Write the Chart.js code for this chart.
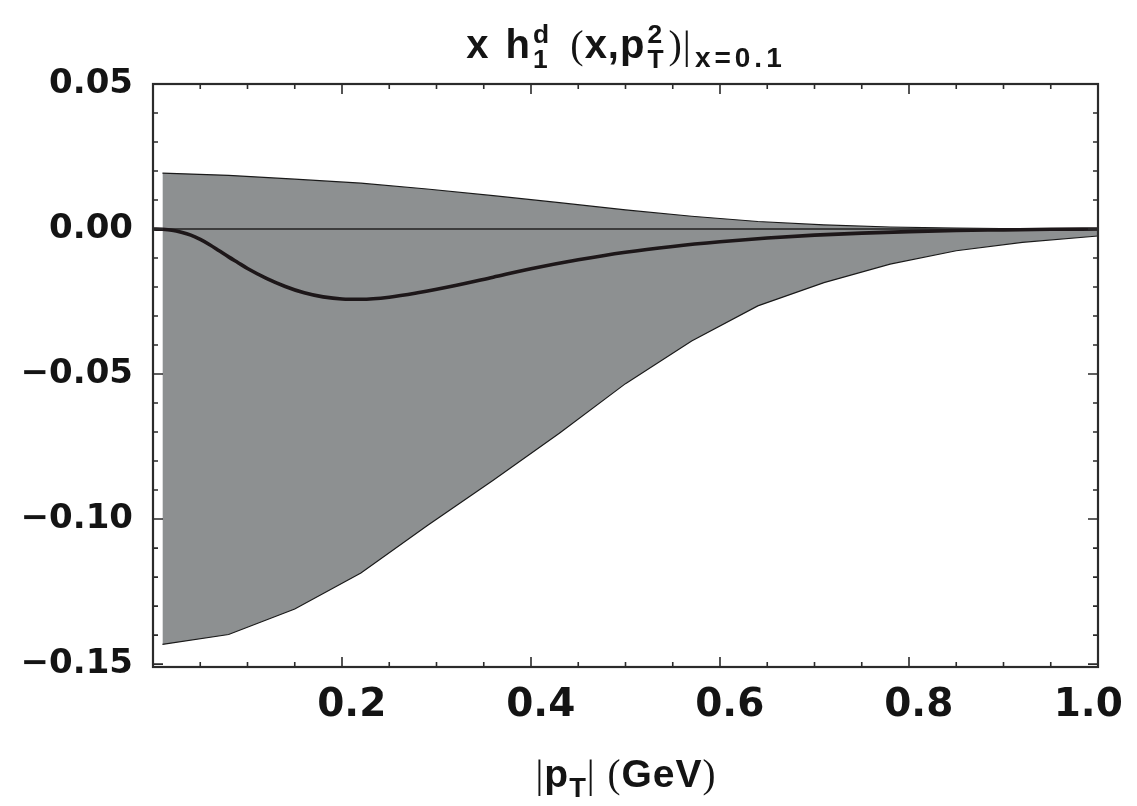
<!doctype html>
<html><head><meta charset="utf-8">
<script src="https://cdn.jsdelivr.net/npm/chart.js@4.4.1/dist/chart.umd.min.js"></script>
<style>
  body{margin:0;background:#fff;width:1137px;height:806px;position:relative;overflow:hidden}
  canvas{position:absolute;left:0;top:0}
  .lbl{position:absolute;white-space:nowrap;color:#141414;font-family:"Liberation Sans",Arial,sans-serif;font-weight:bold;line-height:1}
  #title{left:0;width:1252px;top:22px;text-align:center;font-size:40px;letter-spacing:1px;word-spacing:4px}
  #xlabel{left:0;width:1252px;top:754px;text-align:center;font-size:39px;letter-spacing:1px}
  .ss{display:inline-block;vertical-align:middle;font-size:0.66em;line-height:0.95;text-align:left;margin-left:2px;margin-right:4px}
  .ss span{display:block}
  .sr{font-family:"Liberation Serif","Times New Roman",serif;font-weight:normal}
  .sb{font-size:0.7em;vertical-align:-0.35em}
  #title .sb{letter-spacing:4px;margin-left:3px}
</style></head>
<body>
<canvas id="c" width="1137" height="806"></canvas>
<div id="title" class="lbl">x h<span class="ss"><span>d</span><span>1</span></span> <span class="sr">(</span>x,p<span class="ss"><span>2</span><span>T</span></span><span class="sr">)|</span><span class="sb">x=0.1</span></div>
<div id="xlabel" class="lbl"><span class="sr">|</span>p<span class="sb">T</span><span class="sr">|</span> <span class="sr">(</span>GeV<span class="sr">)</span></div>
<script>
// band (upper / lower bound), sampled every 0.07 like the original plot
const bandX = [0.01, 0.08, 0.15, 0.22, 0.29, 0.36, 0.43, 0.50, 0.57, 0.64, 0.71, 0.78, 0.85, 0.92, 1.0];
const bandUpper = [0.0193, 0.0185, 0.0172, 0.0158, 0.0138, 0.0115, 0.0091, 0.0066, 0.0044, 0.0026, 0.0014, 0.0007, 0.0003, 0.0001, 0.0000];
const bandLower = [-0.1432, -0.1398, -0.1310, -0.1186, -0.1023, -0.0866, -0.0704, -0.0533, -0.0386, -0.0265, -0.0185, -0.0121, -0.0075, -0.0046, -0.0024];

// central curve
const curveX = [0, 0.01, 0.02, 0.03, 0.04, 0.05, 0.06, 0.07, 0.08, 0.09, 0.10, 0.12, 0.14, 0.16, 0.18, 0.20, 0.22, 0.25, 0.28, 0.32, 0.36, 0.40, 0.45, 0.50, 0.55, 0.60, 0.65, 0.70, 0.75, 0.80, 0.85, 0.90, 0.95, 1.0];
const curveY = [0, -0.0001, -0.0004, -0.0011, -0.0021, -0.0036, -0.0054, -0.0075, -0.0096, -0.0116, -0.0136, -0.0170, -0.0198, -0.0220, -0.0234, -0.0241, -0.0242, -0.0235, -0.0220, -0.0195, -0.0166, -0.0137, -0.0106, -0.0080, -0.0060, -0.0044, -0.0031, -0.0021, -0.0014, -0.0009, -0.0005, -0.0003, -0.0001, 0];

// horizontal axis line at y = 0
const zeroX = [0, 1];
const zeroY = [0, 0];

const xTickValues = [0.2, 0.4, 0.6, 0.8, 1.0];
const xTickLabels = ["0.2", "0.4", "0.6", "0.8", "1.0"];
const xMinorTicks = [0.05, 0.1, 0.15, 0.25, 0.3, 0.35, 0.45, 0.5, 0.55, 0.65, 0.7, 0.75, 0.85, 0.9, 0.95];
const yTickValues = [0.05, 0, -0.05, -0.1, -0.15];
const yTickLabels = ["0.05", "0.00", "\u22120.05", "\u22120.10", "\u22120.15"];
const yMinorTicks = [0.04, 0.03, 0.02, 0.01, -0.01, -0.02, -0.03, -0.04, -0.06, -0.07, -0.08, -0.09, -0.11, -0.12, -0.13, -0.14];

const pts = (xs, ys) => xs.map((x, i) => ({ x, y: ys[i] }));

// Mathematica-style frame with inward ticks on all four sides
const frameTicks = {
  id: "frameTicks",
  afterDatasetsDraw(chart) {
    const { ctx, chartArea: a, scales: { x, y } } = chart;
    ctx.save();
    ctx.strokeStyle = "#2b2b2b";
    ctx.lineWidth = 1.6;
    ctx.beginPath();
    const xt = (v, len) => {
      const p = x.getPixelForValue(v);
      ctx.moveTo(p, a.bottom); ctx.lineTo(p, a.bottom - len);
      ctx.moveTo(p, a.top); ctx.lineTo(p, a.top + len);
    };
    const yt = (v, len) => {
      const p = y.getPixelForValue(v);
      ctx.moveTo(a.left, p); ctx.lineTo(a.left + len, p);
      ctx.moveTo(a.right, p); ctx.lineTo(a.right - len, p);
    };
    xTickValues.forEach(v => xt(v, 10));
    xMinorTicks.forEach(v => xt(v, 5));
    yTickValues.forEach(v => yt(v, 10));
    yMinorTicks.forEach(v => yt(v, 5));
    ctx.stroke();
    ctx.lineWidth = 2.2;
    ctx.strokeRect(a.left, a.top, a.right - a.left, a.bottom - a.top);
    ctx.restore();
  }
};

new Chart(document.getElementById("c"), {
  type: "line",
  data: {
    datasets: [
      { data: pts(curveX, curveY), borderColor: "#1d1719", borderWidth: 3.6, pointRadius: 0,
        cubicInterpolationMode: "monotone", fill: false, order: 1 },
      { data: pts(zeroX, zeroY), borderColor: "#3c3c3c", borderWidth: 2, pointRadius: 0, fill: false, order: 2 },
      { data: pts(bandX, bandUpper), borderColor: "#1a1a1a", borderWidth: 1.2, pointRadius: 0, tension: 0,
        fill: "+1", backgroundColor: "#8d9091", order: 4 },
      { data: pts(bandX, bandLower), borderColor: "#1a1a1a", borderWidth: 1.2, pointRadius: 0, tension: 0,
        fill: false, order: 3 }
    ]
  },
  options: {
    responsive: false,
    animation: false,
    layout: { padding: { top: 84, right: 39, left: 0, bottom: 0 } },
    plugins: { legend: { display: false }, tooltip: { enabled: false }, title: { display: false } },
    scales: {
      x: {
        type: "linear", min: 0, max: 1,
        grid: { display: false, drawTicks: false }, border: { display: false },
        afterBuildTicks: s => { s.ticks = xTickValues.map(v => ({ value: v })); },
        afterFit: s => { s.height = 139; s.paddingLeft = 0; s.paddingRight = 0; },
        ticks: { autoSkip: false, maxRotation: 0, padding: 15, color: "#141414",
          font: { family: "DejaVu Sans", weight: "bold", size: 39 },
          // nudge labels like the original: inner ones slightly right, last one pulled inside
          callback: (v, i) => i === xTickLabels.length - 1 ? xTickLabels[i] + "\u2002" : "\u2002" + xTickLabels[i] }
      },
      y: {
        type: "linear", min: -0.151, max: 0.05,
        grid: { display: false, drawTicks: false }, border: { display: false },
        afterBuildTicks: s => { s.ticks = yTickValues.map(v => ({ value: v })); },
        afterFit: s => { s.width = 153; },
        ticks: { autoSkip: false, padding: 20, color: "#141414",
          font: { family: "DejaVu Sans", weight: "bold", size: 34 },
          callback: (v, i) => yTickLabels[i] }
      }
    }
  },
  plugins: [frameTicks]
});
</script>
</body></html>
